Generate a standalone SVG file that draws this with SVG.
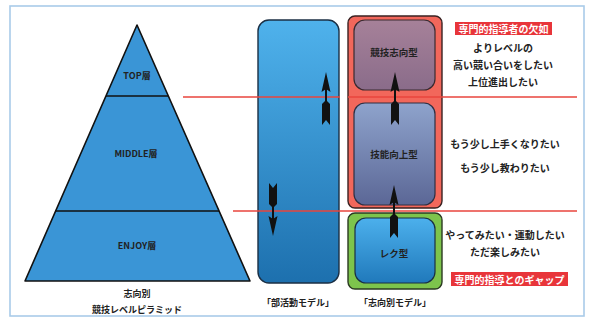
<svg xmlns="http://www.w3.org/2000/svg" width="592" height="320" viewBox="0 0 592 320">
<style>
text{font-family:"Noto Sans CJK JP","Liberation Sans",sans-serif;font-weight:bold;fill:#222;text-anchor:middle;dominant-baseline:central}
.w{fill:#fff}
.rl{stroke:#e8453c;stroke-width:1.6;fill:none}
.arrow{fill:#111}
</style>
<defs>
<linearGradient id="gBlue" x1="0" y1="0" x2="0" y2="1"><stop offset="0" stop-color="#4fb2ec"/><stop offset="1" stop-color="#1d70ae"/></linearGradient>
<linearGradient id="gPurp" x1="0" y1="0" x2="0" y2="1"><stop offset="0" stop-color="#a68199"/><stop offset="1" stop-color="#8a6c8a"/></linearGradient>
<linearGradient id="gSlate" x1="0" y1="0" x2="0" y2="1"><stop offset="0" stop-color="#8ea3cc"/><stop offset="1" stop-color="#5b6796"/></linearGradient>
<linearGradient id="gRek" x1="0" y1="0" x2="0" y2="1"><stop offset="0" stop-color="#4cb0ec"/><stop offset="1" stop-color="#2079bb"/></linearGradient>
<g id="upArrow">
<line x1="0" y1="10" x2="0" y2="40" stroke="#111" stroke-width="2"/>
<polygon class="arrow" points="0,0 4.5,20 0,17 -4.5,20"/>
<polygon class="arrow" points="0,28 4,32 4,53 0,48 -4,53 -4,32"/>
</g>
</defs>
<rect x="0" y="0" width="592" height="320" fill="#fff"/>
<rect x="10" y="6" width="574" height="310" fill="none" stroke="#a9cbe9" stroke-width="1.6"/>

<g id="pyramid">
<polygon points="137,25 250,281 25,281" fill="#3a95d6" stroke="#111" stroke-width="1.6" stroke-linejoin="round"/>
<line x1="106" y1="96" x2="168" y2="96" stroke="#111" stroke-width="1.4"/>
<line x1="55" y1="211" x2="219" y2="211" stroke="#111" stroke-width="1.4"/>
<text x="137" y="75" font-size="9">TOP層</text>
<text x="136" y="153" font-size="9">MIDDLE層</text>
<text x="137" y="245" font-size="9">ENJOY層</text>
<text x="137" y="293" font-size="9">志向別</text>
<text x="137" y="309" font-size="9">競技レベルピラミッド</text>
</g>

<g id="club-model">
<rect x="258" y="20" width="81" height="263" rx="11" fill="url(#gBlue)" stroke="#1b2f44" stroke-width="1.4"/>
<text x="298" y="302" font-size="9">「部活動モデル」</text>
</g>

<g id="shikou-model">
<rect x="348" y="16" width="94" height="192" rx="7" fill="#f2675b" stroke="#3a2222" stroke-width="1.4"/>
<rect x="348" y="213" width="94" height="76" rx="7" fill="#7dc44c" stroke="#2b3a22" stroke-width="1.4"/>
<text x="395" y="302" font-size="9">「志向別モデル」</text>
</g>

<g id="kyougi">
<rect x="354" y="20" width="81" height="70" rx="11" fill="url(#gPurp)" stroke="#3a2a30" stroke-width="1.2"/>
<text x="394" y="52" font-size="9.5">競技志向型</text>
</g>
<g id="ginou">
<rect x="354" y="103" width="81" height="102" rx="11" fill="url(#gSlate)" stroke="#2e3044" stroke-width="1.2"/>
<text x="394" y="154" font-size="9.5">技能向上型</text>
</g>
<g id="reku">
<rect x="355" y="218" width="80" height="65" rx="11" fill="url(#gRek)" stroke="#1b2f44" stroke-width="1.2"/>
<text x="394" y="253" font-size="9.5">レク型</text>
</g>

<g id="connectors">
<line class="rl" x1="183" y1="97" x2="340" y2="97"/>
<line class="rl" x1="348" y1="97" x2="577" y2="97"/>
<line class="rl" x1="233" y1="211" x2="577" y2="211"/>
<use href="#upArrow" x="326" y="72"/>
<use href="#upArrow" x="395" y="72"/>
<use href="#upArrow" x="394" y="185"/>
<use href="#upArrow" transform="translate(273,236) rotate(180)"/>
</g>

<g id="notes">
<rect x="455" y="22" width="97" height="13" fill="#e8353a"/>
<text class="w" x="503.5" y="28.5" font-size="10">専門的指導者の欠如</text>
<text x="503" y="47" font-size="10">よりレベルの</text>
<text x="503" y="64" font-size="10">高い競い合いをしたい</text>
<text x="503" y="81" font-size="10">上位進出したい</text>
<text x="505" y="143" font-size="10">もう少し上手くなりたい</text>
<text x="505" y="167" font-size="10">もう少し教わりたい</text>
<text x="505" y="234" font-size="10">やってみたい・運動したい</text>
<text x="505" y="251" font-size="10">ただ楽しみたい</text>
<rect x="451" y="272" width="117" height="14" fill="#e8353a"/>
<text class="w" x="509.5" y="279" font-size="10">専門的指導とのギャップ</text>
</g>
</svg>
